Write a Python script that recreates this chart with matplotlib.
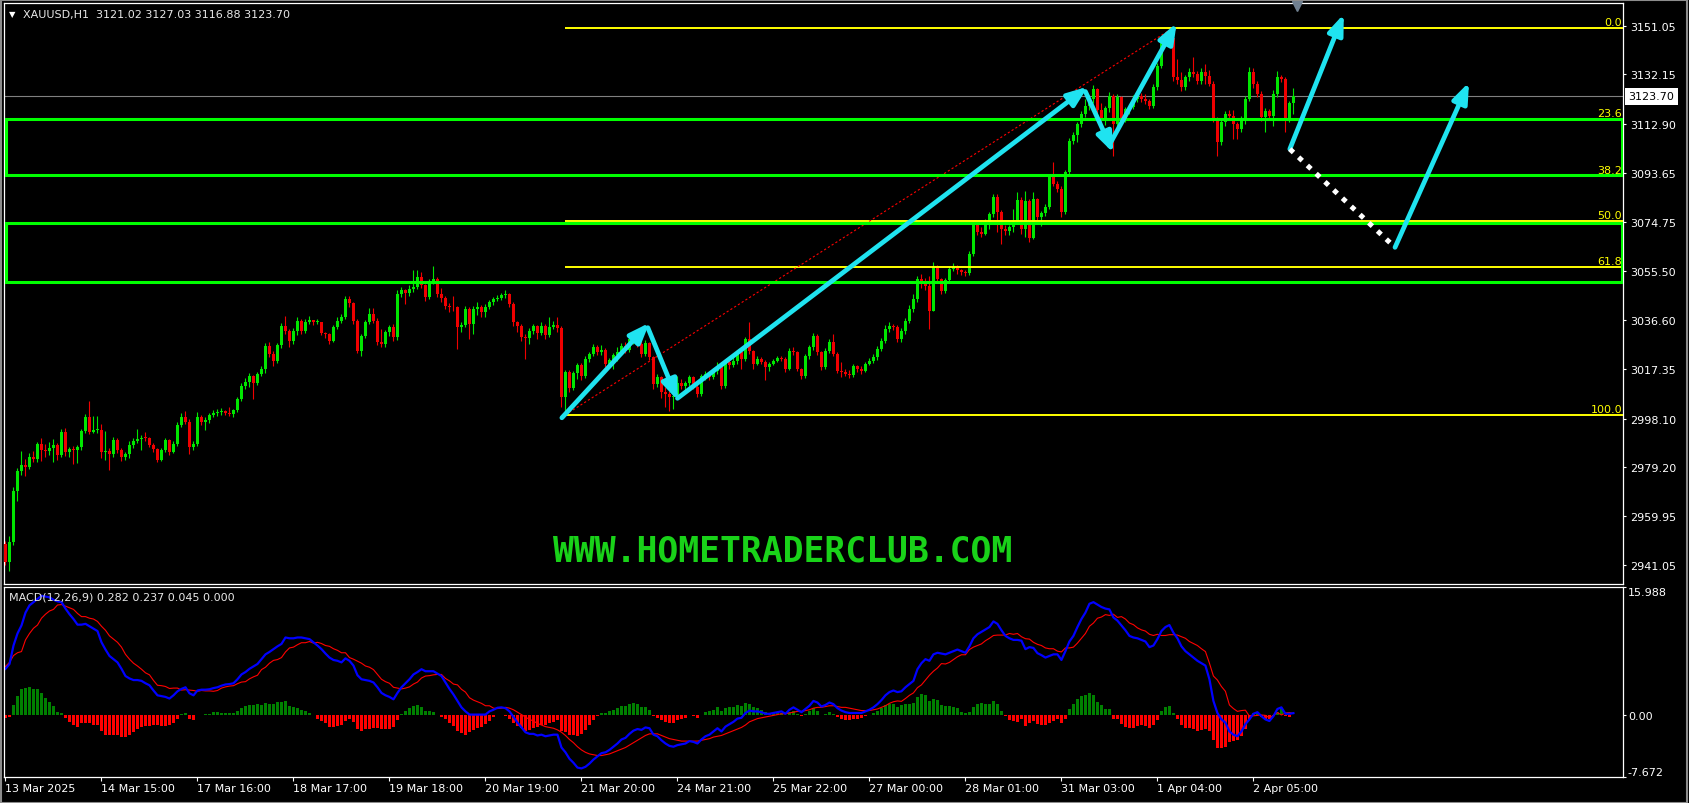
import matplotlib
matplotlib.use("Agg")
import matplotlib.pyplot as plt
import matplotlib.transforms as mtransforms
from matplotlib.patches import Rectangle, FancyArrowPatch, ArrowStyle
import numpy as np

plt.rcParams['font.family'] = ['DejaVu Sans']

# ---------------- data ----------------
symbol = "XAUUSD,H1"
first_open = 2949.2

closes = [
    2942.1, 2950.2, 2970.0, 2977.8, 2980.0, 2979.4, 2983.0, 2982.5, 2988.2, 2986.0,
    2985.6, 2986.6, 2987.9, 2983.9, 2992.7, 2985.2, 2986.2, 2985.7, 2986.9, 2993.1,
    2998.8, 2993.0, 2993.5, 2993.8, 2984.9, 2985.6, 2984.3, 2989.7, 2986.0, 2983.2,
    2984.2, 2987.9, 2989.5, 2990.1, 2990.6, 2990.4, 2987.9, 2986.2, 2982.0, 2985.8,
    2989.8, 2985.2, 2988.2, 2995.7, 2998.8, 2996.9, 2986.9, 2988.2, 2998.8, 2996.6,
    2997.5, 2999.6, 3000.2, 3000.6, 3001.2, 3000.2, 3000.0, 3001.4, 3005.7, 3010.9,
    3012.5, 3014.6, 3012.0, 3015.6, 3017.5, 3026.5, 3023.3, 3020.5, 3026.8, 3034.3,
    3032.4, 3028.5, 3032.4, 3036.3, 3032.4, 3035.9, 3036.4, 3035.6, 3035.8, 3031.6,
    3031.2, 3028.5, 3033.7, 3036.3, 3037.6, 3044.7, 3043.0, 3036.0, 3024.6, 3030.3,
    3035.6, 3038.9, 3036.3, 3027.8, 3027.2, 3031.7, 3033.6, 3029.8, 3046.7, 3048.0,
    3047.0, 3048.4, 3049.5, 3053.2, 3050.0, 3045.4, 3051.8, 3052.5, 3046.7, 3045.0,
    3042.1, 3041.5, 3041.4, 3033.7, 3034.5, 3040.8, 3035.0, 3040.8, 3041.6, 3039.6,
    3041.4, 3043.4, 3044.8, 3045.2, 3046.1, 3046.6, 3042.8, 3035.6, 3034.3, 3029.8,
    3029.5, 3032.3, 3034.0, 3031.5, 3034.3, 3030.5, 3033.7, 3034.6, 3033.4, 3006.4,
    3016.2, 3010.2, 3015.8, 3018.8, 3014.5, 3021.3, 3023.3, 3025.9, 3024.0, 3025.0,
    3019.4, 3020.8, 3022.8, 3024.2, 3026.5, 3024.8, 3029.1, 3029.5, 3027.3, 3023.3,
    3027.5, 3022.0, 3011.6, 3014.2, 3008.3, 3007.6, 3006.5, 3007.0, 3012.0, 3010.8,
    3011.8, 3014.2, 3010.4, 3007.7, 3014.8, 3015.5, 3014.2, 3016.8, 3018.7, 3010.9,
    3020.0, 3019.0, 3020.6, 3023.9, 3021.4, 3029.1, 3024.3, 3019.4, 3021.3, 3020.3,
    3018.0, 3019.4, 3020.6, 3021.6, 3021.3, 3017.4, 3024.6, 3024.0, 3017.4, 3014.8,
    3022.6, 3025.8, 3030.4, 3023.9, 3018.1, 3024.6, 3027.8, 3023.3, 3016.8, 3016.1,
    3015.6, 3015.0, 3018.4, 3017.4, 3016.8, 3019.4, 3020.6, 3022.0, 3025.2, 3028.5,
    3033.0, 3034.3, 3033.6, 3029.1, 3032.3, 3036.3, 3040.8, 3044.7, 3052.4, 3050.4,
    3049.8, 3040.1, 3057.6, 3052.5, 3047.9, 3051.9, 3056.5, 3057.5, 3055.8, 3055.2,
    3054.8, 3062.2, 3073.9, 3070.6, 3070.2, 3073.8, 3077.8, 3084.3, 3078.4, 3071.9,
    3071.0, 3072.6, 3075.0, 3083.4, 3072.0, 3082.8, 3068.5, 3083.5, 3076.6, 3078.0,
    3080.5, 3092.1, 3089.5, 3087.5, 3078.4, 3094.0, 3106.4, 3108.5, 3112.9, 3116.8,
    3120.0, 3122.6, 3126.5, 3118.5, 3115.0, 3119.0, 3123.9, 3112.9, 3123.3, 3114.8,
    3118.6, 3119.5, 3122.6, 3123.9, 3122.6, 3122.0, 3120.0, 3127.2, 3135.6, 3144.7,
    3145.0, 3146.2, 3131.0, 3130.0, 3127.2, 3131.0, 3133.0, 3132.4, 3129.8, 3133.0,
    3131.4, 3128.5, 3114.8, 3105.7, 3113.5, 3116.8, 3116.0, 3113.0, 3111.0, 3114.8,
    3122.6, 3133.0, 3128.5, 3124.6, 3115.5, 3118.0, 3115.8, 3124.6, 3131.0, 3130.4,
    3114.8, 3121.02, 3123.70,
]

highs = [
    2950.5, 2952.4, 2971.3, 2978.7, 2985.6, 2982.3, 2984.8, 2985.6, 2989.0, 2990.5,
    2988.0, 2989.0, 2990.2, 2988.4, 2994.0, 2994.5, 2987.0, 2987.4, 2987.8, 2994.0,
    3000.0, 3005.1, 2999.2, 2999.2, 2996.0, 2993.4, 2986.8, 2991.0, 2990.4, 2986.8,
    2985.0, 2989.4, 2990.7, 2994.0, 2991.8, 2993.0, 2990.8, 2988.4, 2986.8, 2986.8,
    2990.6, 2990.1, 2989.3, 2996.8, 3000.3, 3000.9, 2998.0, 2989.5, 3000.5, 2999.6,
    2998.6, 3000.4, 3001.6, 3001.8, 3002.3, 3001.6, 3002.8, 3002.0, 3006.5, 3011.8,
    3014.0, 3015.8, 3014.9, 3016.4, 3018.6, 3027.5, 3027.8, 3024.5, 3027.6, 3035.5,
    3038.2, 3033.0, 3033.5, 3037.8, 3036.8, 3036.8, 3038.2, 3036.6, 3036.8, 3035.9,
    3032.0, 3031.6, 3034.5, 3037.5, 3038.8, 3046.0, 3045.8, 3043.6, 3037.0, 3031.2,
    3036.5, 3041.0, 3041.1, 3037.2, 3033.0, 3032.6, 3034.5, 3034.8, 3048.0, 3049.4,
    3048.6, 3050.0, 3055.8, 3055.8, 3055.1, 3050.6, 3052.6, 3057.7, 3053.2, 3048.8,
    3046.0, 3043.0, 3046.0, 3042.0, 3035.8, 3041.8, 3041.4, 3041.9, 3043.5, 3042.3,
    3042.6, 3044.3, 3045.6, 3046.2, 3047.0, 3048.0, 3047.2, 3043.4, 3036.0, 3034.8,
    3031.0, 3033.3, 3035.0, 3034.6, 3035.8, 3034.8, 3037.6, 3036.0, 3037.6, 3034.0,
    3017.2, 3017.0, 3016.8, 3019.8, 3019.6, 3022.4, 3024.2, 3027.0, 3026.8, 3026.6,
    3025.6, 3021.8, 3023.8, 3025.8, 3027.5, 3027.8, 3030.0, 3031.0, 3030.7, 3030.0,
    3028.8, 3028.0, 3022.5, 3015.5, 3014.6, 3010.4, 3009.0, 3008.0, 3014.6, 3013.5,
    3012.8, 3015.0, 3014.8, 3012.2, 3015.6, 3016.5, 3016.0, 3017.8, 3020.0, 3019.6,
    3021.0, 3020.8, 3022.0, 3025.0, 3024.5, 3030.0, 3035.6, 3025.0, 3022.4, 3022.0,
    3021.0, 3020.3, 3021.5, 3022.5, 3022.6, 3022.0, 3025.5, 3025.8, 3024.6, 3017.8,
    3023.4, 3026.8, 3031.3, 3031.0, 3024.5, 3025.6, 3029.0, 3031.0, 3024.0, 3020.0,
    3017.4, 3017.0, 3019.4, 3019.0, 3018.5, 3020.3, 3021.6, 3023.4, 3026.3, 3029.6,
    3034.5, 3035.6, 3035.0, 3034.5, 3033.3, 3037.3, 3042.3, 3046.5, 3053.5, 3054.4,
    3053.0, 3053.8, 3059.0, 3057.8, 3053.0, 3052.8, 3057.5, 3058.6, 3058.0, 3056.5,
    3056.0, 3063.2, 3075.0, 3074.8, 3072.6, 3075.8, 3078.6, 3085.5, 3085.6, 3079.3,
    3073.5, 3073.5, 3079.7, 3086.2, 3084.5, 3086.6, 3083.5, 3086.4, 3084.0, 3079.0,
    3081.5, 3093.0, 3097.9, 3090.5, 3088.8, 3095.0, 3107.5, 3109.6, 3113.8, 3118.0,
    3122.6, 3124.0, 3128.2, 3127.0, 3121.0, 3120.0, 3125.2, 3124.6, 3124.5, 3123.6,
    3119.6, 3120.8, 3124.0, 3125.4, 3125.0, 3124.6, 3122.5, 3128.5, 3136.8, 3146.0,
    3146.8, 3149.0, 3150.4, 3138.0, 3133.0, 3132.0, 3134.5, 3138.8, 3133.5, 3134.5,
    3136.4, 3134.0, 3129.5, 3115.5, 3114.5, 3118.0, 3118.5, 3118.2, 3113.5, 3115.8,
    3123.6, 3135.0, 3134.5, 3129.5, 3125.6, 3119.0, 3118.8, 3126.0, 3133.6, 3132.0,
    3131.0, 3122.0, 3127.03,
]

lows = [
    2941.0, 2938.8, 2949.0, 2966.1, 2976.1, 2975.8, 2978.5, 2981.2, 2981.0, 2981.5,
    2983.0, 2983.8, 2981.3, 2982.0, 2983.0, 2983.5, 2983.0, 2980.3, 2980.6, 2986.0,
    2992.5, 2992.0, 2992.4, 2992.6, 2982.7, 2981.9, 2978.2, 2983.0, 2984.5, 2981.6,
    2982.0, 2982.6, 2986.8, 2988.5, 2986.0, 2989.3, 2987.0, 2985.0, 2981.0, 2981.5,
    2985.0, 2983.9, 2984.6, 2987.5, 2995.0, 2995.8, 2984.3, 2985.8, 2987.6, 2995.4,
    2993.5, 2996.5, 2998.8, 2999.2, 2999.6, 2999.4, 2999.2, 2998.8, 3000.8, 3005.0,
    3009.6, 3010.5, 3005.7, 3011.0, 3014.5, 3016.0, 3022.0, 3018.6, 3019.8, 3025.5,
    3031.0, 3026.0, 3027.0, 3030.5, 3031.0, 3031.6, 3034.8, 3034.5, 3034.9, 3030.5,
    3029.5, 3027.2, 3028.0, 3033.0, 3035.5, 3036.8, 3041.5, 3035.0, 3023.6, 3022.6,
    3029.6, 3034.8, 3035.2, 3026.8, 3025.9, 3026.0, 3030.4, 3028.3, 3028.8, 3045.5,
    3042.8, 3045.8, 3047.5, 3048.6, 3049.0, 3044.0, 3044.6, 3050.5, 3045.5, 3043.4,
    3040.6, 3039.8, 3040.0, 3025.2, 3032.0, 3033.8, 3029.1, 3031.0, 3038.5, 3037.5,
    3037.8, 3040.6, 3042.5, 3043.8, 3044.3, 3045.0, 3041.6, 3034.0, 3032.0, 3028.2,
    3021.3, 3027.0, 3031.0, 3029.0, 3030.5, 3029.0, 3029.8, 3032.8, 3032.0, 3002.5,
    2999.6, 3008.6, 3009.3, 3013.5, 3013.2, 3014.0, 3020.0, 3022.6, 3023.0, 3022.8,
    3018.0, 3017.8, 3017.5, 3020.5, 3022.8, 3023.8, 3024.2, 3027.2, 3026.0, 3022.0,
    3022.5, 3020.8, 3009.5, 3010.5, 3006.0, 3002.5, 3001.2, 3002.0, 3006.0, 3009.5,
    3009.0, 3010.6, 3009.5, 3006.5, 3007.0, 3013.0, 3013.0, 3013.5, 3015.5, 3009.8,
    3010.0, 3017.5, 3018.0, 3019.5, 3017.6, 3020.5, 3023.2, 3017.5, 3018.8, 3019.2,
    3013.2, 3016.5, 3018.8, 3020.0, 3020.5, 3016.2, 3017.0, 3022.8, 3016.5, 3013.5,
    3013.8, 3021.5, 3025.0, 3022.8, 3017.0, 3017.4, 3023.8, 3022.5, 3015.8, 3014.2,
    3014.6, 3013.8, 3014.3, 3016.4, 3015.4, 3016.2, 3018.8, 3019.8, 3021.0, 3024.6,
    3027.6, 3031.8, 3032.5, 3027.8, 3028.0, 3031.0, 3035.5, 3039.5, 3043.5, 3049.0,
    3048.0, 3033.0, 3040.0, 3051.5, 3046.6, 3047.0, 3051.0, 3055.6, 3054.6, 3054.0,
    3053.5, 3054.0, 3061.5, 3069.5, 3068.8, 3069.6, 3072.0, 3076.6, 3070.6, 3066.0,
    3069.6, 3069.5, 3070.6, 3074.5, 3070.0, 3069.0, 3067.0, 3068.0, 3075.5, 3073.2,
    3077.0, 3079.8, 3088.6, 3086.5, 3076.5, 3077.8, 3093.0, 3105.0, 3106.0, 3111.8,
    3115.5, 3118.5, 3121.0, 3117.0, 3113.8, 3112.6, 3117.5, 3100.5, 3111.5, 3113.0,
    3113.6, 3116.8, 3118.6, 3121.5, 3121.4, 3120.8, 3118.8, 3119.0, 3126.0, 3134.6,
    3143.2, 3144.2, 3129.5, 3128.5, 3125.8, 3126.0, 3129.8, 3131.0, 3128.6, 3128.5,
    3128.6, 3127.5, 3113.6, 3100.5, 3104.5, 3112.0, 3114.5, 3107.0, 3107.0, 3109.8,
    3113.0, 3121.8, 3127.0, 3123.2, 3114.0, 3109.6, 3114.5, 3112.2, 3123.5, 3129.4,
    3109.6, 3113.5, 3116.88,
]

macd_main = [
    5.8, 6.4, 8.7, 10.2, 11.2, 12.8, 13.7, 14.1, 14.5, 14.9,
    14.8, 14.7, 14.4, 14.2, 14.1, 13.3, 12.6, 12.0, 11.3, 11.3,
    11.4, 11.1, 10.8, 10.5, 9.1, 8.2, 7.4, 7.0, 6.6, 5.8,
    4.9, 4.6, 4.4, 4.4, 4.3, 4.0, 3.75, 3.1, 2.5, 2.4,
    2.3, 2.1, 2.5, 3.0, 3.3, 3.5, 2.75, 2.5, 3.1, 3.2,
    3.2, 3.25, 3.4, 3.5, 3.7, 3.85, 3.9, 4.0, 4.5, 5.1,
    5.4, 5.8, 6.1, 6.4, 7.0, 7.6, 7.9, 8.25, 8.6, 8.9,
    9.7, 9.6, 9.6, 9.7, 9.7, 9.6, 9.5, 9.1, 8.7, 8.25,
    7.7, 7.2, 6.9, 6.8, 6.6, 7.1, 6.8, 6.2, 5.0, 4.5,
    4.4, 4.3, 4.1, 3.5, 2.8, 2.5, 2.3, 2.0, 2.8, 3.5,
    4.0, 4.5, 5.1, 5.4, 5.75, 5.5, 5.5, 5.5, 5.2, 4.9,
    4.1, 3.3, 2.6, 1.8, 1.0, 0.5, 0.1, 0.1, 0.1, 0.1,
    0.1, 0.5, 0.7, 0.95, 1.0, 0.9, 0.5, -0.2, -0.9, -1.5,
    -2.1, -2.3, -2.3, -2.5, -2.4, -2.6, -2.5, -2.4, -2.4, -4.0,
    -4.6, -5.4, -5.9, -6.5, -6.6, -6.4, -6.0, -5.5, -5.1, -4.7,
    -4.6, -4.3, -3.9, -3.5, -3.0, -2.8, -2.3, -1.9, -1.7, -1.8,
    -1.5, -1.6, -2.4, -2.6, -3.1, -3.5, -3.8, -3.9, -3.7, -3.6,
    -3.5, -3.2, -3.3, -3.5, -3.0, -2.6, -2.4, -2.0, -1.6, -2.0,
    -1.4, -1.1, -0.8, -0.4, -0.3, 0.3, 0.6, 0.5, 0.5, 0.4,
    0.2, 0.2, 0.3, 0.4, 0.5, 0.2, 0.7, 1.0, 0.7, 0.4,
    0.8, 1.2, 1.8, 1.6, 1.1, 1.3, 1.6, 1.4, 0.9, 0.6,
    0.4, 0.3, 0.3, 0.3, 0.3, 0.5, 0.7, 1.0, 1.4, 1.9,
    2.5, 2.9, 3.1, 2.9, 3.0, 3.5, 3.9, 4.3, 5.75, 6.5,
    7.0, 6.8, 7.6, 7.8, 7.7, 7.6, 7.8, 8.0, 8.2, 8.0,
    7.8, 8.6, 9.6, 10.1, 10.4, 10.7, 11.0, 11.7, 11.4, 10.6,
    9.9, 9.6, 9.4, 9.4, 9.3, 8.25, 8.5, 8.4, 7.75, 7.5,
    7.2, 7.4, 7.6, 7.6, 6.9, 8.0, 9.2, 9.9, 11.0, 12.0,
    12.8, 13.9, 14.1, 13.8, 13.5, 13.3, 13.2, 12.2, 11.8, 11.2,
    10.6, 9.9, 9.7, 9.6, 9.4, 9.2, 8.5, 8.7, 9.5, 10.5,
    11.0, 11.25, 10.3, 9.6, 8.6, 8.0, 7.6, 7.2, 6.8, 6.5,
    6.2, 4.5, 1.8, 0.3, -0.5, -0.9, -2.0, -2.4, -2.6, -2.0,
    -1.1, -0.5, 0.2, 0.4, -0.1, -0.5, -0.7, -0.1, 0.8, 1.0,
    0.2, 0.2, 0.282,
]

macd_hist = [
    -0.3, -0.2, 1.25, 2.4, 3.25, 3.4, 3.5, 3.25, 3.25, 2.8,
    2.2, 1.7, 1.2, 0.45, 0.3, -0.3, -0.8, -1.2, -1.4, -1.0,
    -0.9, -1.0, -1.2, -1.2, -2.0, -2.4, -2.5, -2.5, -2.5, -2.7,
    -2.7, -2.4, -2.1, -1.75, -1.45, -1.3, -1.3, -1.25, -1.25, -1.3,
    -1.3, -1.25, -0.9, -0.4, 0.15, 0.3, -0.4, -0.6, 0.1, 0.1,
    0.15, 0.2, 0.4, 0.4, 0.3, 0.3, 0.25, 0.3, 0.55, 0.95,
    1.2, 1.25, 1.3, 1.4, 1.3, 1.6, 1.4, 1.4, 1.65, 1.7,
    1.8, 1.2, 1.1, 0.9, 0.65, 0.55, 0.3, 0.1, -0.4, -0.7,
    -1.0, -1.4, -1.4, -1.3, -1.2, -0.7, -0.4, -0.8, -1.75, -2.0,
    -1.75, -1.7, -1.6, -1.6, -1.7, -1.7, -1.7, -1.5, -0.6, 0.2,
    0.6, 0.95, 1.2, 1.25, 1.1, 0.6, 0.55, 0.45, 0.1, -0.2,
    -0.5, -1.0, -1.3, -2.0, -2.25, -2.4, -2.1, -1.8, -1.6, -1.4,
    -1.1, -0.7, -0.2, 0.1, 0.1, -0.1, -0.4, -0.9, -1.3, -1.6,
    -1.9, -1.8, -1.6, -1.5, -1.2, -1.2, -1.0, -0.8, -0.6, -1.9,
    -2.1, -2.4, -2.5, -2.6, -2.3, -1.8, -1.2, -0.6, -0.1, 0.3,
    0.3, 0.5, 0.7, 0.9, 1.2, 1.2, 1.4, 1.5, 1.4, 1.0,
    1.0, 0.7, -0.1, -0.3, -0.6, -0.8, -0.9, -0.9, -0.6, -0.4,
    -0.3, 0.0, -0.1, -0.3, 0.1, 0.4, 0.5, 0.7, 1.0, 0.5,
    0.9, 1.0, 1.1, 1.3, 1.2, 1.5, 1.4, 1.1, 0.9, 0.7,
    0.4, 0.3, 0.3, 0.3, 0.3, 0.0, 0.4, 0.6, 0.2, -0.1,
    0.2, 0.5, 0.9, 0.6, 0.1, 0.2, 0.4, 0.2, -0.2, -0.4,
    -0.6, -0.6, -0.5, -0.4, -0.3, -0.1, 0.1, 0.3, 0.6, 0.9,
    1.3, 1.4, 1.4, 1.1, 1.25, 1.4, 1.4, 1.5, 2.3, 2.7,
    2.6, 1.8, 2.1, 1.9, 1.25, 1.2, 1.2, 1.05, 0.9, 0.45,
    0.25, 0.4, 1.1, 1.4, 1.5, 1.4, 1.4, 1.75, 1.4, 0.6,
    -0.1, -0.6, -0.7, -0.8, -0.5, -1.3, -1.0, -0.7, -1.1, -1.2,
    -1.2, -0.9, -0.7, -0.4, -1.0, -0.4, 0.8, 1.4, 2.0, 2.4,
    2.6, 2.8, 2.6, 1.7, 1.25, 0.75, 0.75, -0.4, -0.4, -1.1,
    -1.4, -1.6, -1.6, -1.3, -1.25, -1.3, -1.6, -1.25, -0.6, 0.55,
    1.05, 1.2, 0.25, -0.4, -1.2, -1.6, -1.6, -1.75, -1.9, -1.8,
    -1.75, -2.0, -3.1, -4.1, -4.1, -3.9, -3.3, -3.25, -3.1, -2.6,
    -1.75, -0.4, 0.25, 0.4, -0.15, -0.5, -0.4, -0.1, 0.45, 0.95,
    -0.1, -0.15, 0.045,
]

time_labels = ["13 Mar 2025", "14 Mar 15:00", "17 Mar 16:00", "18 Mar 17:00",
               "19 Mar 18:00", "20 Mar 19:00", "21 Mar 20:00", "24 Mar 21:00",
               "25 Mar 22:00", "27 Mar 00:00", "28 Mar 01:00", "31 Mar 03:00",
               "1 Apr 04:00", "2 Apr 05:00"]
bars_per_label = 24

price_ticks = [3151.05, 3132.15, 3112.90, 3093.65, 3074.75, 3055.50,
               3036.60, 3017.35, 2998.10, 2979.20, 2959.95, 2941.05]
macd_ticks = [15.988, 0.0, -7.672]

# fibonacci drawn from the swing low to the swing high
fib_start_bar, fib_low = 140, 2999.6
fib_end_bar, fib_high = 292, 3150.4
fib_levels = [0.0, 23.6, 38.2, 50.0, 61.8, 100.0]

# green zones (low price, high price)
zones = [(3093.0, 3114.7), (3051.3, 3074.3)]

# cyan arrows: (bar from, price from, bar to, price to)
arrows = [
    (139.1, 2998.4, 161.0, 3035.4),
    (160.6, 3033.5, 168.1, 3005.1),
    (168.0, 3006.0, 270.6, 3127.4),
    (270.0, 3125.5, 277.0, 3101.6),
    (275.9, 3104.5, 292.8, 3152.2),
    (321.1, 3103.1, 334.6, 3155.7),
    (347.4, 3064.8, 365.9, 3129.1),
]
dotted_path = ([321.1, 347.4], [3103.1, 3064.8])

# ---------------- figure ----------------
n = len(closes)
x = np.arange(n)
c = np.array(closes)
opens = np.array([first_open] + closes[:-1])
hi = np.maximum(np.array(highs), np.maximum(opens, c))
lo = np.minimum(np.array(lows), np.minimum(opens, c))
up = c >= opens

W, H = 1689, 804
fig = plt.figure(figsize=(W / 100, H / 100), dpi=100, facecolor='black')
ax = fig.add_axes([4 / W, 1 - 585 / H, 1619 / W, 581 / H], facecolor='black')
ax2 = fig.add_axes([4 / W, 1 - 778 / H, 1619 / W, 190 / H], facecolor='black')

# window frame
fig.patches.append(Rectangle((0.5 / W, 0.5 / H), 1 - 2.5 / W, 1 - 1.5 / H,
                             transform=fig.transFigure, fill=False,
                             ec='#8c8c8c', lw=1.5))

xlim = (-0.375, 404.4)
for a in (ax, ax2):
    a.set_xlim(*xlim)
    for s in a.spines.values():
        s.set_color('white')
        s.set_linewidth(0.9)
ax.set_ylim(2933.65, 3160.0)
ax2.set_ylim(-7.672, 15.988)

# candles
bull, bear = '#00E600', '#F00000'
cols = np.where(up, bull, bear)
body_bottom = np.minimum(opens, c)
body_height = np.maximum(np.abs(c - opens), 0.35)
ax.vlines(x, lo, hi, colors=cols, linewidth=0.8, zorder=2)
ax.bar(x, body_height, bottom=body_bottom, width=0.72, color=cols, linewidth=0, zorder=3)

# bid line
ax.axhline(c[-1], color='#808080', lw=0.8, zorder=1)

# fibo
trans = mtransforms.blended_transform_factory(ax.transAxes, ax.transData)
fib_prices = [fib_high - (fib_high - fib_low) * lv / 100 for lv in fib_levels]
ax.hlines(fib_prices, fib_start_bar, xlim[1], colors='#FFFF00', lw=1.4, zorder=4)
for lv, p in zip(fib_levels, fib_prices):
    ax.text(0.9995, p + 0.3, f"{lv:.1f}", transform=trans, ha='right', va='bottom',
            color='#FFFF00', fontsize=8, zorder=6)
ax.plot([fib_start_bar, fib_end_bar], [fib_low, fib_high], color='#FF0000', lw=0.8,
        ls=(0, (2, 2)), zorder=4)

# zones
for z_lo, z_hi in zones:
    ax.add_patch(Rectangle((0.1, z_lo), 404.0, z_hi - z_lo, fill=False,
                           ec='#00FF00', lw=2.2, zorder=5))

# arrows
cyan = '#1FE3F0'
for x0, y0, x1, y1 in arrows:
    ax.add_patch(FancyArrowPatch((x0, y0), (x1, y1),
                                 arrowstyle=ArrowStyle('-|>', head_length=12, head_width=4.6),
                                 mutation_scale=1, lw=3.4, color=cyan,
                                 shrinkA=0, shrinkB=0, zorder=7))
ax.plot(dotted_path[0], dotted_path[1], color='white', lw=3.6, ls=(0, (1, 1.4)), zorder=7)

# watermark
ax.text(0.4812, 0.0585, "WWW.HOMETRADERCLUB.COM", transform=ax.transAxes,
        family='DejaVu Sans Mono', weight='bold', fontsize=25, color='#19D219',
        ha='center', va='center', zorder=6)

# shift marker
tshift = mtransforms.blended_transform_factory(ax.transData, ax.transAxes)
ax.plot([n], [0.995], marker='v', ms=7, color='#708090', transform=tshift,
        clip_on=False, zorder=8)

# price axis
ax.yaxis.tick_right()
ax.set_yticks(price_ticks)
ax.set_yticklabels([f"{v:.2f}" for v in price_ticks])
ax.tick_params(axis='y', colors='white', labelcolor='white', labelsize=8,
               length=2.5, width=0.8, pad=2.5, direction='out')
ax.tick_params(axis='x', bottom=False, labelbottom=False)
ax.text(1.0033, c[-1], f"{c[-1]:.2f}", transform=trans, ha='left', va='center',
        fontsize=8, color='black', clip_on=False, zorder=9,
        bbox=dict(boxstyle='square,pad=0.3', fc='white', ec='none'))

# MACD
hist = np.array(macd_hist)
main = np.array(macd_main)
signal = main - hist
ax2.bar(x, hist, width=0.72, color=np.where(hist >= 0, '#008000', '#FF0000'), linewidth=0)
ax2.plot(x, signal, color='#FF0000', lw=0.8)
ax2.plot(x, main, color='#0000FF', lw=1.6)
ax2.yaxis.tick_right()
ax2.set_yticks(macd_ticks)
ax2.set_yticklabels(['15.988', '0.00', '-7.672'])
ax2.tick_params(axis='y', colors='white', labelcolor='white', labelsize=8,
                length=2, width=0.8, pad=1.5)
ylabs = ax2.get_yticklabels()
ylabs[0].set_va('top')
ylabs[-1].set_va('bottom')
ax2.set_xticks(x[::bars_per_label])
ax2.set_xticklabels(time_labels, ha='left')
ax2.tick_params(axis='x', colors='white', labelcolor='white', labelsize=8,
                length=3, width=0.8, pad=1.5)

# headers
fig.text(22.7 / W, 1 - 15 / H,
         f"{symbol}  {opens[-1]:.2f} {hi[-1]:.2f} {lo[-1]:.2f} {c[-1]:.2f}",
         color='#E8E8E8', fontsize=8, va='center', ha='left')
fig.text(12.6 / W, 1 - 14.5 / H, '\u25BC', color='white', fontsize=6, va='center', ha='center')
fig.text(9.3 / W, 1 - 598 / H,
         f"MACD(12,26,9) {main[-1]:.3f} {signal[-1]:.3f} {hist[-1]:.3f} 0.000",
         color='#E8E8E8', fontsize=8, va='center', ha='left')

fig.savefig('out.png', dpi=100, facecolor='black')
